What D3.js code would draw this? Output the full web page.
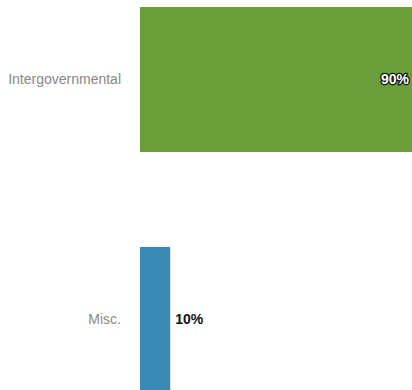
<!DOCTYPE html>
<html><head><meta charset="utf-8">
<script src="https://cdn.jsdelivr.net/npm/d3@7"></script>
<style>
html,body{margin:0;padding:0;background:#fff;}
svg{display:block;font-family:"Liberation Sans",Arial,Helvetica,sans-serif;}
</style></head>
<body>
<script>
const categories = ["Intergovernmental", "Misc."];
const values = [90, 10];
const colors = ["#699e3a", "#3b8ab5"];

const W = 412, H = 390;
const svg = d3.select("body").append("svg").attr("width", W).attr("height", H);

const x = d3.scaleLinear().domain([0, d3.max(values)]).range([140, 412]);
const y = d3.scaleBand().domain(categories).range([7, 392]).paddingInner(95/240).paddingOuter(0);

const data = categories.map((c, i) => ({c, v: values[i], col: colors[i]}));

svg.selectAll("rect.bar").data(data).join("rect")
  .attr("class", "bar")
  .attr("x", x(0))
  .attr("y", d => y(d.c))
  .attr("width", d => x(d.v) - x(0))
  .attr("height", y.bandwidth())
  .attr("fill", d => d.col);

const yAxis = d3.axisLeft(y).tickSize(0).tickPadding(0);
const ga = svg.append("g").attr("transform", "translate(121,0)").call(yAxis);
ga.select(".domain").remove();
ga.selectAll("text").attr("fill", "#888").style("font-size", "14px")
  .style("font-family", "'Liberation Sans',Arial,sans-serif");

svg.selectAll("text.val").data(data).join("text")
  .attr("class", "val")
  .attr("x", d => d.v > 50 ? x(d.v) - 3 : x(d.v) + 5)
  .attr("y", d => y(d.c) + y.bandwidth() / 2)
  .attr("dy", "0.35em")
  .attr("text-anchor", d => d.v > 50 ? "end" : "start")
  .style("font-size", "14px").style("font-weight", "bold")
  .style("font-family", "'Liberation Sans',Arial,sans-serif")
  .attr("fill", d => d.v > 50 ? "#fff" : "#111")
  .attr("stroke", d => d.v > 50 ? "#111" : "none")
  .attr("stroke-width", 2.5)
  .attr("paint-order", "stroke")
  .attr("stroke-linejoin", "round")
  .text(d => d.v + "%");
</script>
</body></html>
